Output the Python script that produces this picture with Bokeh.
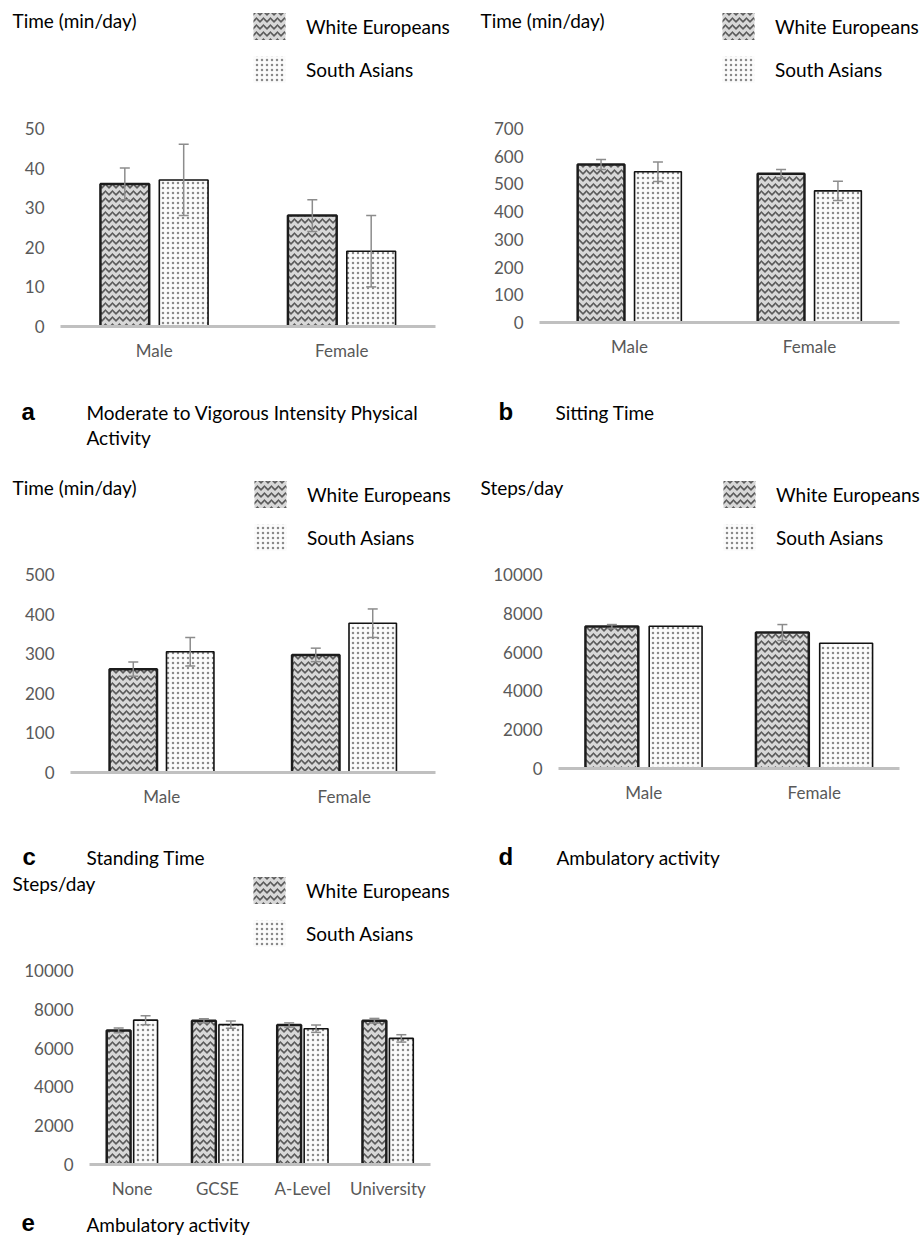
from bokeh.plotting import figure
from bokeh.models import (Range1d, FixedTicker, Label, Legend, LegendItem,
                          Whisker, TeeHead, ColumnDataSource)
from bokeh.layouts import row, column
from bokeh.embed import file_html
from bokeh.resources import INLINE

FONT = "Lato"
GROUPS = ["White Europeans", "South Asians"]

# ---- data -------------------------------------------------------------
a_cats = ["Male", "Female"]
a_we = [36, 28]
a_we_err = [4, 4]
a_sa = [37, 19]
a_sa_err = [9, 9]
a_ticks = [0, 10, 20, 30, 40, 50]

b_cats = ["Male", "Female"]
b_we = [570, 537]
b_we_err = [18, 15]
b_sa = [544, 475]
b_sa_err = [35, 35]
b_ticks = [0, 100, 200, 300, 400, 500, 600, 700]

c_cats = ["Male", "Female"]
c_we = [261, 297]
c_we_err = [18, 17]
c_sa = [305, 377]
c_sa_err = [36, 36]
c_ticks = [0, 100, 200, 300, 400, 500]

d_cats = ["Male", "Female"]
d_we = [7320, 7010]
d_we_err = [100, 410]
d_sa = [7330, 6460]
d_sa_err = [None, None]
d_ticks = [0, 2000, 4000, 6000, 8000, 10000]

e_cats = ["None", "GCSE", "A-Level", "University"]
e_we = [6910, 7410, 7190, 7410]
e_we_err = [120, 100, 110, 120]
e_sa = [7440, 7210, 7000, 6500]
e_sa_err = [230, 190, 190, 190]
e_ticks = [0, 2000, 4000, 6000, 8000, 10000]

WE_STYLE = dict(fill_color="#d8d8d8", hatch_pattern="horizontal_wave", hatch_color="#5c5c5c",
                hatch_scale=7, hatch_weight=1.7)
SA_STYLE = dict(fill_color="#fbfbfb", hatch_pattern="dot", hatch_color="#8a8a8a",
                hatch_scale=5, hatch_weight=1.6)
ERR_COLOR = "#8c8c8c"
TXT = "19px"


def panel(cats, we, we_err, sa, sa_err, ticks, W, H, ox, oy, axis_box, off, bw,
          header, header_xy, legend_xy, letter, letter_xy, caption, cap_x, cap_ys):
    axl, axr, top_y, base_y = axis_box  # window pixel positions of the plot area
    n = len(cats)
    ymax = ticks[-1]
    ppx = (axr - axl) / n
    ppy = (base_y - top_y) / ymax
    x_range = Range1d(-(axl - ox) / ppx, n + (ox + W - axr) / ppx)
    y_range = Range1d(-(oy + H - base_y) / ppy, ymax + (top_y - oy) / ppy)

    p = figure(width=W, height=H, x_range=x_range, y_range=y_range,
               output_backend="svg", toolbar_location=None,
               min_border_left=0, min_border_right=0, min_border_top=0, min_border_bottom=0)
    p.outline_line_color = None
    p.background_fill_color = "white"
    p.border_fill_color = "white"
    p.xgrid.grid_line_color = None
    p.ygrid.grid_line_color = None

    centers = [i + 0.5 for i in range(n)]
    data = dict(cat=cats, xc=centers, we=we, sa=sa,
                x_we=[c - off for c in centers], x_sa=[c + off for c in centers])
    data["we_up"] = [v + e for v, e in zip(we, we_err)]
    data["we_lo"] = [v - e for v, e in zip(we, we_err)]
    src = ColumnDataSource(data)

    p.vbar(x="x_we", top="we", width=bw, source=src,
           line_color="#1c1c1c", line_width=2.5, **WE_STYLE)
    p.vbar(x="x_sa", top="sa", width=bw, source=src,
           line_color="#111111", line_width=1.6, **SA_STYLE)

    def whisk(col, xcol):
        w = Whisker(base=xcol, upper=col + "_up", lower=col + "_lo",
                    source=src, line_color=ERR_COLOR, line_width=1.5, level="overlay",
                    upper_head=TeeHead(size=10, line_color=ERR_COLOR, line_width=1.5),
                    lower_head=TeeHead(size=10, line_color=ERR_COLOR, line_width=1.5))
        p.add_layout(w)

    whisk("we", "x_we")
    if all(e is not None for e in sa_err):
        src.data["sa_up"] = [v + e for v, e in zip(sa, sa_err)]
        src.data["sa_lo"] = [v - e for v, e in zip(sa, sa_err)]
        whisk("sa", "x_sa")

    # legend swatch proxies: zero-height bars (invisible in the plot), no outline
    proxy = ColumnDataSource(dict(x=[centers[0]], top=[0]))
    lw = p.vbar(x="x", top="top", width=bw, source=proxy, line_color=None, **WE_STYLE)
    ls = p.vbar(x="x", top="top", width=bw, source=proxy, line_color=None, **SA_STYLE)
    lx, ltop = legend_xy
    gh, sp = 34, 9
    lheight = 2 * gh + sp
    leg = Legend(items=[LegendItem(label=GROUPS[0], renderers=[lw]),
                        LegendItem(label=GROUPS[1], renderers=[ls])],
                 location=(lx - ox, (oy + H) - (ltop + lheight)), orientation="vertical",
                 glyph_width=40, glyph_height=gh, spacing=sp, label_standoff=17,
                 padding=0, margin=0, border_line_color=None, background_fill_alpha=0,
                 label_text_font=FONT, label_text_font_size=TXT, label_text_color="black",
                 label_height=gh)
    p.add_layout(leg)

    # axes drawn at fixed places inside the frame
    p.yaxis.fixed_location = 0
    p.yaxis.bounds = (0, ymax)
    p.yaxis.ticker = FixedTicker(ticks=ticks)
    p.yaxis.axis_line_color = None
    p.yaxis.major_tick_line_color = None
    p.yaxis.minor_tick_line_color = None
    p.yaxis.major_tick_out = 0
    p.yaxis.major_tick_in = 0
    p.yaxis.major_label_standoff = 16
    p.yaxis.major_label_text_font = FONT
    p.yaxis.major_label_text_font_size = "17px"
    p.yaxis.major_label_text_color = "#595959"

    p.xaxis.fixed_location = 0
    p.xaxis.bounds = (0, n)
    p.xaxis.ticker = FixedTicker(ticks=centers)
    p.xaxis.major_label_overrides = {c: name for c, name in zip(centers, cats)}
    p.xaxis.axis_line_color = "#c0c0c0"
    p.xaxis.axis_line_width = 3
    p.xaxis.major_tick_line_color = None
    p.xaxis.minor_tick_line_color = None
    p.xaxis.major_tick_out = 0
    p.xaxis.major_tick_in = 0
    p.xaxis.major_label_standoff = 13
    p.xaxis.major_label_text_font = FONT
    p.xaxis.major_label_text_font_size = "17px"
    p.xaxis.major_label_text_color = "#595959"

    def lab(px, py, text, font=FONT, size=TXT, bold=False):
        p.add_layout(Label(x=px - ox, y=(oy + H) - py, x_units="screen", y_units="screen",
                           text=text, text_font=font, text_font_size=size, text_color="black",
                           text_font_style="bold" if bold else "normal",
                           text_baseline="middle", text_align="left"))

    lab(header_xy[0], header_xy[1], header)
    lab(letter_xy[0], letter_xy[1], letter, font="Liberation Sans", size="24px", bold=True)
    for line, cy in zip(caption, cap_ys):
        lab(cap_x, cy, line)
    return p


pa = panel(a_cats, a_we, a_we_err, a_sa, a_sa_err, a_ticks, 460, 450, 0, 0,
           (60, 435, 128, 326), 0.157, 0.26,
           "Time (min/day)", (12, 20), (249, 9), "a", (21, 411),
           ["Moderate to Vigorous Intensity Physical", "Activity"], 86, [412, 437])

pb = panel(b_cats, b_we, b_we_err, b_sa, b_sa_err, b_ticks, 460, 450, 460, 0,
           (539, 899, 128, 322), 0.158, 0.26,
           "Time (min/day)", (480, 20), (718, 9), "b", (498, 411),
           ["Sitting Time"], 555, [412])

pc = panel(c_cats, c_we, c_we_err, c_sa, c_sa_err, c_ticks, 460, 422, 0, 450,
           (70, 435, 574, 772), 0.156, 0.26,
           "Time (min/day)", (12, 487), (250, 477), "c", (22, 856),
           ["Standing Time"], 86, [857])

pd_ = panel(d_cats, d_we, d_we_err, d_sa, d_sa_err, d_ticks, 460, 422, 460, 450,
            (558, 899, 574, 768), 0.187, 0.31,
            "Steps/day", (480, 487), (719, 477), "d", (498, 856),
            ["Ambulatory activity"], 556, [857])

pe = panel(e_cats, e_we, e_we_err, e_sa, e_sa_err, e_ticks, 460, 365, 0, 872,
           (89, 430, 970, 1164), 0.158, 0.28,
           "Steps/day", (12, 883), (249, 873), "e", (21, 1222),
           ["Ambulatory activity"], 86, [1224])

layout = column(row(pa, pb), row(pc, pd_), row(pe))

with open("out.html", "w") as f:
    f.write(file_html(layout, INLINE))
